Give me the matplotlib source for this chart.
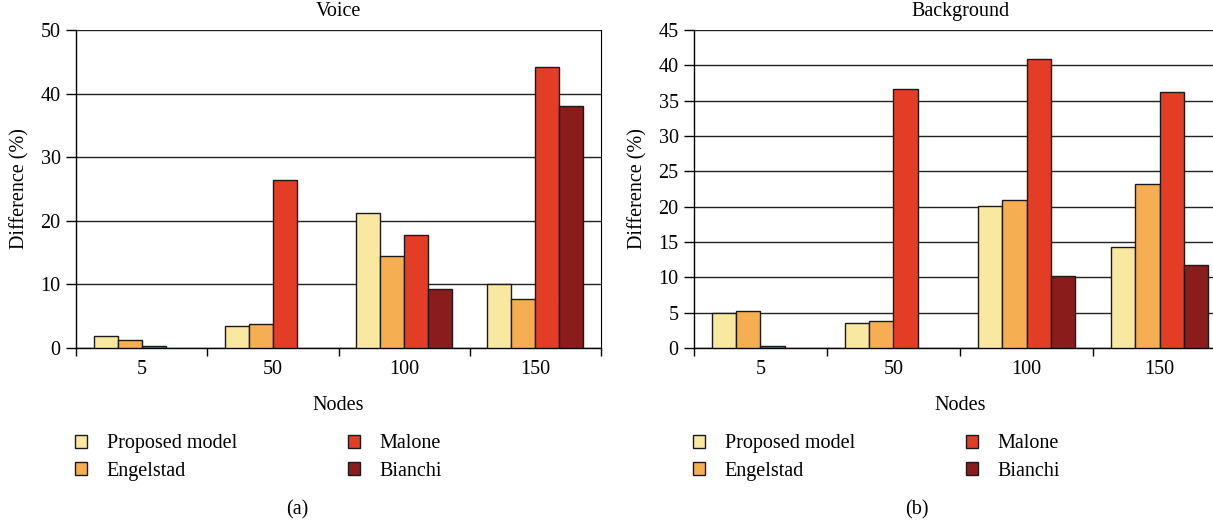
import numpy as np
import matplotlib
matplotlib.use("Agg")
from matplotlib import pyplot as plt
from matplotlib.patches import Patch

plt.rcParams['font.family'] = ['Liberation Serif', 'DejaVu Serif']

nodes = ['5', '50', '100', '150']
series = ['Proposed model', 'Engelstad', 'Malone', 'Bianchi']
colors = ['#F9E9A0', '#F5AF52', '#E43D26', '#8B1C1C']

# nan = no bar drawn
voice = {
    'Proposed model': [1.9, 3.4, 21.2, 10.1],
    'Engelstad': [1.3, 3.7, 14.4, 7.7],
    'Malone': [0.35, 26.4, 17.8, 44.2],
    'Bianchi': [np.nan, np.nan, 9.2, 38.0],
}
background = {
    'Proposed model': [5.0, 3.6, 20.1, 14.3],
    'Engelstad': [5.2, 3.8, 20.9, 23.2],
    'Malone': [0.25, 36.7, 40.9, 36.2],
    'Bianchi': [np.nan, np.nan, 10.2, 11.8],
}

FS = 14.5
W, H = 1213, 527
fig = plt.figure(figsize=(W / 100, H / 100), dpi=100)


def panel(rect, data, title, ymax, ystep, right_spine):
    ax = fig.add_axes(rect)
    x = np.arange(len(nodes))
    bw = 0.183
    for i, s in enumerate(series):
        ax.bar(x + (i - 1.5) * bw, data[s], bw, color=colors[i],
               edgecolor='#1a1a1a', linewidth=1.0, zorder=3)
    ax.set_xlim(-0.5, len(nodes) - 0.5)
    ax.set_ylim(0, ymax)
    ax.set_yticks(np.arange(0, ymax + 0.1, ystep))
    ax.yaxis.grid(True, color='#222222', linewidth=1.0, zorder=0)
    ax.set_xticks(x)
    ax.set_xticklabels(nodes)
    ax.set_xticks(np.arange(-0.5, len(nodes)), minor=True)
    ax.tick_params(axis='x', which='major', length=0, pad=9, labelsize=FS)
    ax.tick_params(axis='x', which='minor', length=6, width=1, direction='out')
    ax.tick_params(axis='y', length=7, width=1, direction='out', pad=4,
                   labelsize=FS)
    for sp in ['left', 'bottom']:
        ax.spines[sp].set_linewidth(1.0)
    ax.spines['top'].set_visible(False)
    ax.spines['right'].set_visible(right_spine)
    ax.set_title(title, fontsize=FS, pad=10)
    ax.set_ylabel('Difference (%)', fontsize=FS, labelpad=8)
    ax.set_xlabel('Nodes', fontsize=FS, labelpad=12)

    handles = [Patch(facecolor=c, edgecolor='#1a1a1a', linewidth=1.0)
               for c in colors]
    ax.legend(handles, series, loc='upper left', bbox_to_anchor=(-0.002, -0.272),
              ncol=2, frameon=False, fontsize=FS, handlelength=0.62,
              handleheight=0.62, handletextpad=0.95, columnspacing=5.5,
              labelspacing=0.42, borderaxespad=0, borderpad=0)
    return ax


ax1 = panel([76 / W, 1 - 348 / H, 525 / W, 318 / H], voice, 'Voice', 50, 10,
            True)
ax2 = panel([694 / W, 1 - 348 / H, 532 / W, 318 / H], background, 'Background',
            45, 5, False)

fig.text(297 / W, 1 - 510 / H, '(a)', ha='center', va='center', fontsize=FS)
fig.text(917 / W, 1 - 510 / H, '(b)', ha='center', va='center', fontsize=FS)

fig.savefig('out.png', dpi=100)
